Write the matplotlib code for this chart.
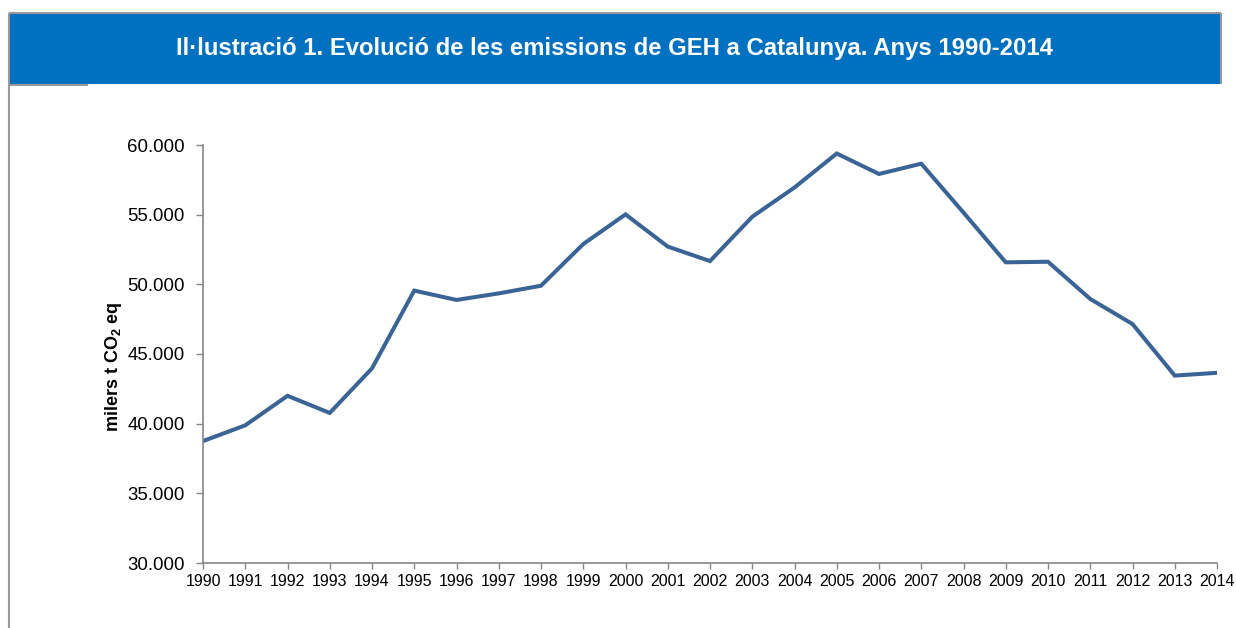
import matplotlib
matplotlib.use("Agg")
import matplotlib.pyplot as plt
from matplotlib.ticker import FuncFormatter, MultipleLocator
from matplotlib.patches import Rectangle
from matplotlib.lines import Line2D

plt.rcParams['font.family'] = ['Liberation Sans', 'DejaVu Sans']
plt.rcParams['mathtext.fontset'] = 'custom'
plt.rcParams['mathtext.rm'] = 'Liberation Sans'
plt.rcParams['mathtext.bf'] = 'Liberation Sans:bold'

# emissions GEH Catalunya (milers t CO2 eq), llegit del grafic
years = list(range(1990, 2015))
emissions = [38750, 39880, 42000, 40770, 43970, 49550, 48880, 49350, 49900, 52890,
             55020, 52710, 51670, 54850, 56950, 59390, 57920, 58660, 55150, 51580,
             51620, 48950, 47150, 43450, 43650]

title = "Il·lustració 1. Evolució de les emissions de GEH a Catalunya. Anys 1990-2014"
ylabel = r"milers t CO$_\mathbf{2}$ eq"

W, H = 1236, 628
fig = plt.figure(figsize=(W / 100, H / 100), dpi=100)

def fx(px):
    return px / W

def fy(py):
    return 1 - py / H

def frame_line(x0, y0, x1, y1):
    fig.add_artist(Line2D([fx(x0), fx(x1)], [fy(y0), fy(y1)], transform=fig.transFigure,
                          color='#999999', lw=1.5, solid_capstyle='butt'))

# title bar
bar = Rectangle((fx(9), fy(84)), fx(1221) - fx(9), fy(13) - fy(84),
                transform=fig.transFigure, facecolor='#0070C0', edgecolor='none')
fig.patches.append(bar)
frame_line(9, 13, 1221, 13)      # top
frame_line(1221, 13, 1221, 84)   # right side of the bar
frame_line(9, 13, 9, 628)        # left side, down to the bottom
frame_line(9, 84.5, 88, 84.5)    # short piece under the bar
fig.text(fx(614), fy(48), title, color='white', fontsize=17.2, fontweight='bold',
         ha='center', va='center')

# plot area
ax = fig.add_axes([fx(203), fy(563), fx(1217) - fx(203), fy(145) - fy(563)])
ax.plot(years, emissions, color='#3A6496', lw=2.9, solid_joinstyle='miter')

ax.set_xlim(1990, 2014)
ax.set_ylim(30000, 60000)
ax.set_xticks(years)
ax.yaxis.set_major_locator(MultipleLocator(5000))
ax.yaxis.set_major_formatter(FuncFormatter(lambda v, p: f"{v:,.0f}".replace(",", ".")))

for s in ['top', 'right']:
    ax.spines[s].set_visible(False)
for s in ['left', 'bottom']:
    ax.spines[s].set_color('#868686')
    ax.spines[s].set_linewidth(1.2)

ax.tick_params(axis='y', length=5, width=1, color='#868686', pad=8, labelsize=13.4)
ax.tick_params(axis='x', length=4, width=1, color='#868686', pad=4, labelsize=11.5)

ax.set_ylabel(ylabel, fontsize=13, fontweight='bold', va='center')
ax.yaxis.set_label_coords(-0.088, 0.47)

fig.savefig("out.png", dpi=100)
